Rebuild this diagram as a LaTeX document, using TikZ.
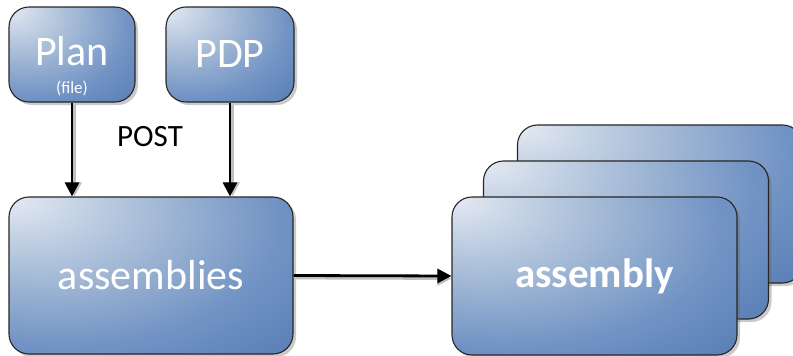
\documentclass[tikz,border=0pt]{standalone}
\usepackage{fontspec}
\setmainfont{Carlito}
\usetikzlibrary{arrows.meta,shadows}
\definecolor{bl0}{HTML}{E6EAF2}
\definecolor{bl1}{HTML}{C4D2E4}
\definecolor{bl2}{HTML}{9AB2D2}
\definecolor{bl3}{HTML}{7193C4}
\definecolor{bl4}{HTML}{5A7FB6}
\definecolor{bl5}{HTML}{5479B0}
\pgfdeclareradialshading{boxshade}{\pgfpoint{-25bp}{25bp}}{color(0bp)=(bl0); color(10bp)=(bl1); color(24bp)=(bl2); color(38bp)=(bl3); color(52bp)=(bl4); color(70bp)=(bl5); color(100bp)=(bl5)}
\tikzset{
  bluebox/.style={draw=black!85, line width=1.1pt, rounded corners=20pt,
    shading=boxshade,
    drop shadow={shadow xshift=3pt, shadow yshift=-3pt, opacity=0.35, fill=black!60},
    text=white, inner sep=0pt, anchor=center},
  conn/.style={line width=2.8pt, -{Triangle[length=14pt,width=14pt]}},
  connshadow/.style={line width=2.8pt, draw=black!25, -{Triangle[length=14pt,width=14pt]}},
}
\begin{document}
\begin{tikzpicture}[x=1pt,y=-1pt]
\useasboundingbox (0,0) rectangle (793,356);
\begin{scope}
\clip (0,0) rectangle (793,356);
% assembly stack
\node[bluebox, minimum width=285pt, minimum height=158pt] (back) at (660,204) {};
\node[bluebox, minimum width=285pt, minimum height=158pt] (mid) at (626,240) {};
\node[bluebox, minimum width=285pt, minimum height=158pt, font=\fontsize{41}{48}\selectfont\bfseries] (front) at (594.5,276) {assembly};
\end{scope}
\node[bluebox, minimum width=126pt, minimum height=95pt] (plan) at (72,54.5) {};
\node[text=white, font=\fontsize{42}{48}\selectfont, inner sep=0pt] (plantxt) at (72,51) {Plan};
\node[text=white, font=\fontsize{17}{20}\selectfont, inner sep=0pt] (file) at (72,88) {(file)};
\node[bluebox, minimum width=128pt, minimum height=95pt, font=\fontsize{42}{48}\selectfont] (pdp) at (230,54.5) {PDP};
\node[bluebox, minimum width=284pt, minimum height=157pt, font=\fontsize{42}{48}\selectfont] (asm) at (151,275.5) {assemblies};
\node[font=\fontsize{31}{36}\selectfont, inner sep=0pt] (post) at (150,137) {POST};
% connector shadows
\draw[connshadow] ([shift={(2.5,2.5)}]plan.south) -- ([shift={(2.5,0)}]plan.south |- asm.north);
\draw[connshadow] ([shift={(2.5,2.5)}]pdp.south) -- ([shift={(2.5,0)}]pdp.south |- asm.north);
\draw[connshadow] ([shift={(2,2.5)}]asm.east) -- ([shift={(0,2.5)}]front.west);
% connectors
\draw[conn] (plan.south) -- (plan.south |- asm.north);
\draw[conn] (pdp.south) -- (pdp.south |- asm.north);
\draw[conn] (asm.east) -- (front.west);
\end{tikzpicture}
\end{document}
